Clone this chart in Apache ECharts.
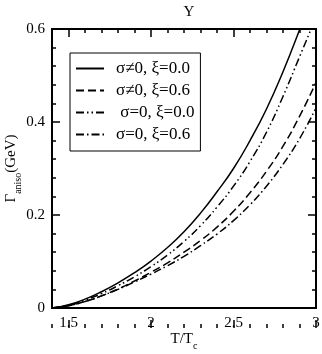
<!DOCTYPE html>
<html>
<head>
<meta charset="utf-8">
<script src="https://cdn.jsdelivr.net/npm/echarts@6/dist/echarts.min.js"></script>
<style>
  html, body { margin: 0; padding: 0; background: #fff; }
  #chart { width: 322px; height: 354px; }
</style>
</head>
<body>
<div id="chart"></div>
<script>
  // T/Tc values
  var temps = [1.4, 1.5, 1.6, 1.7, 1.8, 1.9, 2.0, 2.1, 2.2, 2.3, 2.4, 2.5, 2.6, 2.7, 2.8, 2.9, 3.0];
  // Gamma_aniso (GeV) per curve
  var sigXi0   = [0, 0.007, 0.019, 0.035, 0.054, 0.076, 0.101, 0.130, 0.164, 0.204, 0.250, 0.300, 0.360, 0.428, 0.508, 0.598, 0.695];
  var sigXi6   = [0, 0.005, 0.014, 0.026, 0.041, 0.058, 0.077, 0.097, 0.120, 0.145, 0.174, 0.208, 0.248, 0.294, 0.348, 0.412, 0.485];
  var noSigXi0 = [0, 0.006, 0.017, 0.031, 0.048, 0.067, 0.089, 0.114, 0.143, 0.177, 0.217, 0.262, 0.315, 0.378, 0.455, 0.540, 0.625];
  var noSigXi6 = [0, 0.005, 0.014, 0.026, 0.040, 0.056, 0.073, 0.091, 0.111, 0.134, 0.159, 0.188, 0.222, 0.262, 0.309, 0.364, 0.430];
  var names = ['σ≠0, ξ=0.0', 'σ≠0, ξ=0.6', 'σ=0, ξ=0.0', 'σ=0, ξ=0.6'];

  var font = 'Liberation Serif';
  var tickLine = { color: '#000', width: 1.5 };

  function pairs(ys) {
    var out = [];
    for (var i = 0; i < temps.length; i++) out.push([temps[i], ys[i]]);
    return out;
  }

  // ticks only draw outward here, so they sit on thin grids just outside the plot
  // and point back into it
  function xTickAx(grid, pos, min, step, len) {
    return {
      type: 'value', gridIndex: grid, position: pos, min: min, max: 3, interval: step,
      axisLine: { show: false },
      axisTick: { show: true, length: len, lineStyle: tickLine },
      axisLabel: { show: false },
      splitLine: { show: false }
    };
  }
  function yTickAx(grid, pos) {
    return {
      type: 'value', gridIndex: grid, position: pos, min: 0, max: 0.6, interval: 0.2,
      axisLine: { show: false },
      axisTick: { show: true, length: 8, lineStyle: tickLine },
      minorTick: { show: true, splitNumber: 5, length: 4, lineStyle: tickLine },
      axisLabel: { show: false },
      splitLine: { show: false }
    };
  }
  function hiddenX(grid) { return { type: 'value', gridIndex: grid, show: false, min: 1.4, max: 3 }; }
  function hiddenY(grid) { return { type: 'value', gridIndex: grid, show: false, min: 0, max: 0.6 }; }

  var xAxes = [
    {
      type: 'value', gridIndex: 0, position: 'bottom', min: 1.4, max: 3, interval: 0.1,
      axisLine: { show: false },
      axisTick: { show: false },
      axisLabel: {
        color: '#000', fontFamily: font, fontSize: 15, margin: 8,
        formatter: function (v) {
          var r = Math.round(v * 10) / 10;
          return (Math.abs(r * 2 - Math.round(r * 2)) < 1e-6) ? String(r) : '';
        }
      },
      splitLine: { show: false },
      name: '{a|T/T}{b|c}',
      nameLocation: 'middle',
      nameGap: 24,
      nameMoveOverlap: false,
      nameTextStyle: {
        rich: {
          a: { fontFamily: font, fontSize: 15, color: '#000', verticalAlign: 'top', lineHeight: 16 },
          b: { fontFamily: font, fontSize: 10, color: '#000', verticalAlign: 'top', lineHeight: 10, padding: [9, 0, 0, 0] }
        }
      }
    },
    xTickAx(1, 'bottom', 1.4, 0.1, 4),   // strip above the plot
    xTickAx(2, 'bottom', 1.5, 0.5, 8),
    xTickAx(3, 'top', 1.4, 0.1, 4),      // strip below the plot
    xTickAx(4, 'top', 1.5, 0.5, 8),
    hiddenX(5),
    hiddenX(6)
  ];

  var yAxes = [
    {
      type: 'value', gridIndex: 0, position: 'left', min: 0, max: 0.6, interval: 0.2,
      axisLine: { show: false },
      axisTick: { show: false },
      axisLabel: { color: '#000', fontFamily: font, fontSize: 15, margin: 7 },
      splitLine: { show: false },
      name: '{a|Γ}{b|aniso}{a|(GeV)}',
      nameLocation: 'middle',
      nameGap: 32,
      nameMoveOverlap: false,
      nameTextStyle: {
        rich: {
          a: { fontFamily: font, fontSize: 15, color: '#000', verticalAlign: 'top', lineHeight: 16 },
          b: { fontFamily: font, fontSize: 10, color: '#000', verticalAlign: 'top', lineHeight: 10, padding: [9, 0, 0, 0] }
        }
      }
    },
    hiddenY(1), hiddenY(2), hiddenY(3), hiddenY(4),
    yTickAx(5, 'right'),   // strip left of the plot
    yTickAx(6, 'left')     // strip right of the plot
  ];

  var dashes = ['solid', [8, 4], [8, 3, 1.5, 3, 1.5, 3], [8, 3, 1.5, 3]];
  var curves = [sigXi0, sigXi6, noSigXi0, noSigXi6];
  var series = [];
  for (var k = 0; k < curves.length; k++) {
    series.push({
      name: names[k], type: 'line', smooth: true, symbol: 'none',
      xAxisIndex: 0, yAxisIndex: 0,
      data: pairs(curves[k]),
      lineStyle: { color: '#000', width: 1.5, type: dashes[k] },
      itemStyle: { color: '#000' }
    });
  }

  var nb = 'none';
  var chart = echarts.init(document.getElementById('chart'));
  chart.setOption({
    animation: false,
    backgroundColor: '#fff',
    title: {
      text: 'Y', left: 184, top: 0, textAlign: 'center',
      textStyle: { fontFamily: font, fontSize: 15, fontWeight: 'normal', color: '#000' }
    },
    grid: [
      { left: 52, right: 6, top: 29, bottom: 46, outerBoundsMode: nb,
        show: true, borderColor: '#000', borderWidth: 2, backgroundColor: 'transparent' },
      { left: 52, right: 6, top: 9, height: 20, outerBoundsMode: nb },
      { left: 68.5, right: 6, top: 9, height: 20, outerBoundsMode: nb },
      { left: 52, right: 6, top: 308, height: 20, outerBoundsMode: nb },
      { left: 68.5, right: 6, top: 308, height: 20, outerBoundsMode: nb },
      { left: 30, width: 22, top: 29, bottom: 46, outerBoundsMode: nb },
      { left: 316, width: 4, top: 29, bottom: 46, outerBoundsMode: nb }
    ],
    legend: {
      orient: 'vertical', left: 70, top: 53,
      borderColor: '#000', borderWidth: 1, borderRadius: 0,
      padding: [7, 6, 8, 5], itemWidth: 28, itemHeight: 14, itemGap: 5,
      data: names,
      itemStyle: { opacity: 0 },
      formatter: function (n) { return n === names[2] ? ' ' + n : n; },
      textStyle: { fontFamily: font, fontSize: 17, color: '#000', padding: [0, 0, 0, 7] }
    },
    xAxis: xAxes,
    yAxis: yAxes,
    series: series
  });
</script>
</body>
</html>
